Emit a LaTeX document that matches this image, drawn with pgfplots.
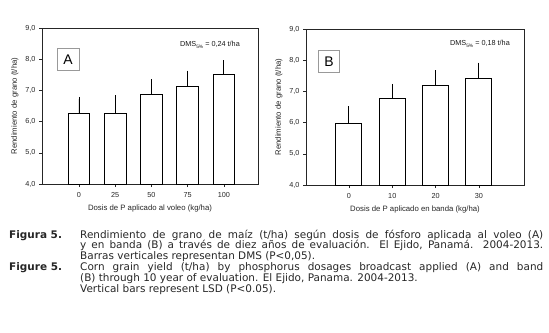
\documentclass[border=0pt]{standalone}
\usepackage{fontspec}
\setmainfont{Liberation Sans}
\newfontfamily\capfont{DejaVu Sans}
\usepackage{pgfplots}
\pgfplotsset{compat=1.18}
\pgfplotstableread{
x y e
0 6.27 0.45
1 6.27 0.51
2 6.87 0.41
3 7.14 0.42
4 7.50 0.39
}\dataA
\pgfplotstableread{
x y e
0 5.97 0.48
1 6.76 0.41
2 7.19 0.41
3 7.42 0.43
}\dataB
\pgfplotsset{
  panel/.style={
    anchor=south west, scale only axis,
    ymin=4, ymax=9, ytick={4,5,...,9},
    axis line style={black!85, line width=0.6bp},
    tick style={black!85, line width=0.6bp},
    tick align=outside, xtick pos=bottom, ytick pos=left,
    major tick length=3bp,
    /pgf/number format/assume math mode=true,
    yticklabel style={/pgf/number format/.cd, fixed, fixed zerofill, precision=1, use comma},
    ticklabel style={font=\fontsize{7.3}{8}\selectfont, text=black!85},
    xticklabel style={yshift=-1.5bp},
    label style={font=\fontsize{7.8}{9}\selectfont, text=black!85},
    xlabel style={yshift=-0.5bp},
    ylabel={Rendimiento de grano (t/ha)},
    ybar, bar width=0.6, bar shift=0pt,
    clip=true,
  },
  barplot/.style={fill=white, draw=black, line width=0.9bp,
    error bars/.cd, y dir=plus, y explicit,
    error bar style={line width=0.9bp, black},
    error mark options={line width=0.9bp, mark size=2.2bp, black}},
}
\begin{document}
\begin{tikzpicture}[x=1bp,y=1bp]
\path[use as bounding box] (0,0) rectangle (549,332);
\begin{axis}[panel, at={(42bp,148bp)}, width=216bp, height=156bp,
  xmin=-1.02, xmax=4.94, xtick={0,1,2,3,4}, xticklabels={0,25,50,75,100},
  xlabel={Dosis de P aplicado al voleo (kg/ha)}]
\addplot[barplot] table[x=x, y=y, y error=e] {\dataA};
\end{axis}
\begin{axis}[panel, at={(306bp,147bp)}, width=218bp, height=156bp,
  xmin=-0.99, xmax=4.04, xtick={0,1,2,3}, xticklabels={0,10,20,30},
  xlabel={Dosis de P aplicado en banda (kg/ha)}]
\addplot[barplot] table[x=x, y=y, y error=e] {\dataB};
\end{axis}
% panel letters
\node[draw=black!40, line width=0.6bp, minimum width=22bp, minimum height=22bp, inner sep=0pt,
  font=\fontsize{14}{14}\selectfont] at (68,272.5) {A};
\node[draw=black!40, line width=0.6bp, minimum width=21bp, minimum height=22bp, inner sep=0pt,
  font=\fontsize{14}{14}\selectfont] at (329,270.5) {B};
\node[font=\fontsize{7.3}{8}\selectfont, text=black!90] at (210,287)
  {DMS\raisebox{-0.5ex}{\fontsize{4.8}{5}\selectfont 5\%} = 0,24 t/ha};
\node[font=\fontsize{7.3}{8}\selectfont, text=black!90] at (480,288)
  {DMS\raisebox{-0.5ex}{\fontsize{4.8}{5}\selectfont 5\%} = 0,18 t/ha};
% caption
\begin{scope}[every node/.style={anchor=base west, inner sep=0pt, font=\capfont\fontsize{10.5}{11}\selectfont, text=black!85}]
\node at (9,94) {\bfseries Figura 5.};
\node at (80,94) {\makebox[463bp][s]{Rendimiento de grano de maíz (t/ha) según dosis de fósforo aplicada al voleo (A)}};
\node at (80,83.1) {\makebox[463bp][s]{y en banda (B) a través de diez años de evaluación. El Ejido, Panamá. 2004-2013.}};
\node at (80,72.2) {Barras verticales representan DMS (P<0,05).};
\node at (9,61.3) {\bfseries Figure 5.};
\node at (80,61.3) {\makebox[463bp][s]{Corn grain yield (t/ha) by phosphorus dosages broadcast applied (A) and band}};
\node at (80,50.4) {(B) through 10 year of evaluation. El Ejido, Panama. 2004-2013.};
\node at (80,39.5) {Vertical bars represent LSD (P<0.05).};
\end{scope}
\end{tikzpicture}
\end{document}
